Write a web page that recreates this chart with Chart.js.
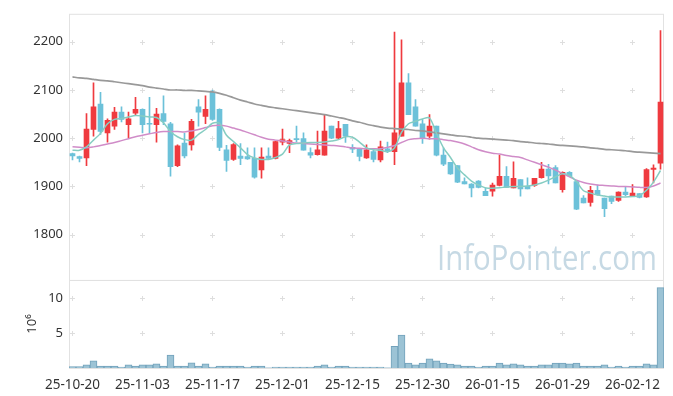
<!DOCTYPE html>
<html>
<head>
<meta charset="utf-8">
<script src="https://cdn.jsdelivr.net/npm/chart.js@4.4.1/dist/chart.umd.min.js"></script>
<style>
  html, body { margin: 0; padding: 0; background: #fff; }
  #wrap { width: 673px; height: 396px; }
</style>
</head>
<body>
<div id="wrap"><canvas id="chart-candle" width="673" height="396"></canvas></div>
<script>
const dates = [
	"25-10-20", "25-10-21", "25-10-22", "25-10-23", "25-10-24",
	"25-10-27", "25-10-28", "25-10-29", "25-10-30", "25-10-31",
	"25-11-03", "25-11-04", "25-11-05", "25-11-06", "25-11-07",
	"25-11-10", "25-11-11", "25-11-12", "25-11-13", "25-11-14",
	"25-11-17", "25-11-18", "25-11-19", "25-11-20", "25-11-21",
	"25-11-24", "25-11-25", "25-11-26", "25-11-27", "25-11-28",
	"25-12-01", "25-12-02", "25-12-03", "25-12-04", "25-12-05",
	"25-12-08", "25-12-09", "25-12-10", "25-12-11", "25-12-12",
	"25-12-15", "25-12-16", "25-12-17", "25-12-18", "25-12-19",
	"25-12-22", "25-12-23", "25-12-24", "25-12-26", "25-12-29",
	"25-12-30", "26-01-02", "26-01-05", "26-01-06", "26-01-07",
	"26-01-08", "26-01-09", "26-01-12", "26-01-13", "26-01-14",
	"26-01-15", "26-01-16", "26-01-19", "26-01-20", "26-01-21",
	"26-01-22", "26-01-23", "26-01-26", "26-01-27", "26-01-28",
	"26-01-29", "26-01-30", "26-02-02", "26-02-03", "26-02-04",
	"26-02-05", "26-02-06", "26-02-09", "26-02-10", "26-02-11",
	"26-02-12", "26-02-13", "26-02-19", "26-02-20", "26-02-23",
];

const open = [
	1968, 1962, 1959, 2018, 2071, 2011, 2025, 2054, 2028, 2052,
	2060, 2030, 2028, 2051, 2030, 1943, 1990, 1986, 2065, 2045,
	2095, 2060, 1976, 1956, 1963, 1962, 1958, 1934, 1963, 1958,
	1992, 1989, 1999, 1999, 1970, 1966, 1965, 2025, 2000, 2029,
	1981, 1978, 1959, 1972, 1955, 1978, 1972, 2004, 2115, 2065,
	2030, 2004, 2025, 1965, 1950, 1943, 1910, 1905, 1911, 1890,
	1890, 1902, 1921, 1897, 1914, 1900, 1902, 1918, 1936, 1939,
	1893, 1929, 1910, 1876, 1867, 1892, 1876, 1880, 1871, 1888,
	1881, 1885, 1878, 1935, 1948,
];
const high = [
	1969, 1963, 2051, 2115, 2095, 2040, 2064, 2065, 2054, 2085,
	2061, 2085, 2062, 2088, 2033, 1986, 2010, 2039, 2080, 2088,
	2100, 2061, 1985, 1989, 1989, 1980, 1980, 1980, 1980, 1994,
	2019, 1998, 2025, 2011, 1980, 2015, 2049, 2025, 2035, 2029,
	1987, 1979, 1986, 1979, 1994, 1992, 2220, 2204, 2134, 2080,
	2039, 2049, 2025, 1980, 1950, 1943, 1918, 1906, 1912, 1897,
	1907, 1965, 1941, 1951, 1914, 1918, 1917, 1950, 1946, 1943,
	1930, 1931, 1911, 1881, 1900, 1903, 1876, 1880, 1889, 1898,
	1904, 1885, 1937, 1945, 2223,
];
const low = [
	1955, 1951, 1943, 2004, 2008, 1992, 2018, 2034, 2001, 2047,
	2011, 2011, 1992, 2028, 1921, 1941, 1959, 1975, 2025, 2030,
	2037, 1974, 1931, 1954, 1945, 1956, 1917, 1917, 1956, 1957,
	1986, 1970, 1993, 1975, 1959, 1965, 1965, 1999, 1998, 1991,
	1970, 1953, 1958, 1951, 1951, 1970, 1945, 2004, 2049, 2025,
	1989, 1998, 1963, 1943, 1925, 1908, 1905, 1878, 1897, 1881,
	1880, 1901, 1898, 1897, 1880, 1895, 1900, 1917, 1905, 1907,
	1888, 1921, 1852, 1866, 1859, 1882, 1837, 1864, 1869, 1881,
	1880, 1876, 1877, 1907, 1936,
];
const close = [
	1963, 1958, 2019, 2065, 2014, 2037, 2054, 2039, 2040, 2060,
	2028, 2029, 2050, 2035, 1941, 1984, 1963, 2035, 2054, 2060,
	2039, 1981, 1954, 1987, 1958, 1957, 1919, 1961, 1958, 1993,
	1997, 1995, 1997, 1975, 1965, 1976, 2015, 2000, 2020, 2004,
	1977, 1962, 1976, 1956, 1982, 1972, 2011, 2115, 2049, 2025,
	2000, 2025, 1965, 1946, 1926, 1909, 1905, 1897, 1898, 1881,
	1903, 1921, 1898, 1917, 1895, 1895, 1917, 1936, 1922, 1907,
	1929, 1922, 1853, 1866, 1892, 1883, 1854, 1869, 1888, 1883,
	1886, 1877, 1935, 1938, 2075,
];

// moving averages
const ma5 = [
	1975, 1975, 1982, 1996, 2010, 2030, 2039, 2041, 2044, 2047,
	2046, 2044, 2043, 2032, 2014, 2003, 1997, 1996, 2008, 2018,
	2031, 2031, 2006, 1993, 1980, 1966, 1959, 1956, 1956, 1960,
	1967, 1986, 1989, 1990, 1991, 1991, 1992, 1994, 1997, 2003,
	2002, 1992, 1980, 1976, 1975, 1972, 1980, 2012, 2030, 2035,
	2040, 2042, 2010, 1980, 1960, 1938, 1924, 1911, 1903, 1897,
	1896, 1897, 1899, 1900, 1900, 1901, 1903, 1907, 1913, 1920,
	1926, 1923, 1910, 1891, 1886, 1882, 1880, 1878, 1878, 1878,
	1879, 1881, 1892, 1909, 1933,
];
const ma20 = [
	1982, 1981, 1980, 1982, 1985, 1988, 1991, 1995, 1999, 2003,
	2006, 2009, 2012, 2014, 2014, 2014, 2013, 2015, 2018, 2022,
	2026, 2027, 2025, 2021, 2017, 2012, 2007, 2002, 1998, 1996,
	1994, 1992, 1990, 1989, 1988, 1987, 1986, 1985, 1984, 1982,
	1980, 1979, 1978, 1978, 1978, 1981, 1985, 1991, 1997, 1999,
	2000, 1999, 1999, 1997, 1995, 1992, 1988, 1982, 1976, 1972,
	1969, 1967, 1964, 1962, 1960, 1955, 1950, 1945, 1940, 1934,
	1927, 1920, 1913, 1908, 1905, 1903, 1902, 1901, 1900, 1900,
	1899, 1898, 1898, 1901, 1907,
];
const ma60 = [
	2127, 2125, 2124, 2122, 2120, 2119, 2117, 2115, 2113, 2111,
	2109, 2106, 2104, 2102, 2100, 2100, 2099, 2099, 2098, 2097,
	2096, 2093, 2089, 2084, 2079, 2075, 2071, 2068, 2065, 2063,
	2061, 2059, 2057, 2055, 2053, 2051, 2049, 2046, 2043, 2040,
	2036, 2033, 2029, 2026, 2023, 2021, 2020, 2019, 2018, 2016,
	2015, 2013, 2011, 2009, 2007, 2005, 2004, 2002, 2000, 1999,
	1998, 1997, 1996, 1995, 1993, 1992, 1990, 1989, 1988, 1986,
	1985, 1984, 1983, 1982, 1980, 1979, 1977, 1976, 1975, 1974,
	1972, 1971, 1970, 1969, 1968,
];

// volume in millions of shares
const volume = [
	0.19, 0.19, 0.47, 1.04, 0.28, 0.28, 0.28, 0.14, 0.47, 0.28,
	0.47, 0.47, 0.61, 0.28, 1.84, 0.28, 0.28, 0.75, 0.28, 0.61,
	0.14, 0.28, 0.28, 0.28, 0.28, 0.14, 0.28, 0.28, 0.02, 0.14,
	0.14, 0.14, 0.14, 0.14, 0.14, 0.28, 0.47, 0.14, 0.28, 0.28,
	0.14, 0.14, 0.14, 0.14, 0.14, 0.02, 3.11, 4.72, 0.71, 0.47,
	0.71, 1.32, 1.04, 0.71, 0.57, 0.47, 0.28, 0.28, 0.14, 0.28,
	0.28, 0.71, 0.47, 0.61, 0.47, 0.28, 0.28, 0.47, 0.47, 0.71,
	0.71, 0.61, 0.71, 0.28, 0.28, 0.28, 0.47, 0.14, 0.28, 0.14,
	0.28, 0.28, 0.61, 0.47, 11.5,
];

const priceTicks = [1800, 1900, 2000, 2100, 2200];
const volumeTicks = [5, 10];

const UP = "#ef3a3f";
const DOWN = "#6cc1d9";
const candleColors = close.map((c, i) => (c >= open[i] ? UP : DOWN));

Chart.defaults.font.family = "'Noto Sans', sans-serif";
Chart.defaults.font.size = 13;
Chart.defaults.color = "#333";

// light panel frames, "+" grid marks and the watermark
const panelDecor = {
	id: "panelDecor",
	beforeDatasetsDraw(chart) {
		const { ctx, chartArea, scales } = chart;
		const { left, right } = chartArea;
		ctx.save();
		ctx.lineWidth = 1;
		ctx.strokeStyle = "#e2e2e2";
		for (const axis of [scales.y, scales.v]) {
			ctx.strokeRect(left + 0.5, axis.top + 0.5, right - left - 1, axis.bottom - axis.top);
		}

		ctx.strokeStyle = "#dedede";
		const xs = scales.x.ticks.map((t) => Math.floor(scales.x.getPixelForValue(t.value)) + 0.5);
		ctx.beginPath();
		for (const axis of [scales.y, scales.v]) {
			for (const t of axis.ticks) {
				const py = Math.round(axis.getPixelForValue(t.value)) + 0.5;
				for (const px of xs) {
					ctx.moveTo(px - 2.5, py);
					ctx.lineTo(px + 2.5, py);
					ctx.moveTo(px, py - 2.5);
					ctx.lineTo(px, py + 2.5);
				}
			}
		}
		ctx.stroke();

		// watermark, squeezed to the narrower face of the original
		const mark = "InfoPointer.com";
		ctx.fillStyle = "#c6d9e4";
		ctx.font = "34px 'Open Sans', sans-serif";
		ctx.textAlign = "right";
		ctx.textBaseline = "alphabetic";
		const sx = 220 / ctx.measureText(mark).width;
		ctx.translate(right - 7, scales.y.bottom - 10);
		ctx.scale(sx, 1);
		ctx.fillText(mark, 0, 0);
		ctx.restore();
	},
};

const ctx = document.getElementById("chart-candle");

const data = {
	labels: dates,
	datasets: [
		{
			type: "line",
			label: "MA5",
			data: ma5,
			borderColor: "#86cdc2",
			borderWidth: 1.5,
			pointRadius: 0,
			tension: 0.3,
			yAxisID: "y",
			order: 0,
		},
		{
			type: "line",
			label: "MA20",
			data: ma20,
			borderColor: "#d08cc8",
			borderWidth: 1.5,
			pointRadius: 0,
			tension: 0.3,
			yAxisID: "y",
			order: 0,
		},
		{
			type: "line",
			label: "MA60",
			data: ma60,
			borderColor: "#999999",
			borderWidth: 1.7,
			pointRadius: 0,
			tension: 0.3,
			yAxisID: "y",
			order: 0,
		},
		{
			label: "body",
			data: open.map((o, i) => [o, close[i]]),
			backgroundColor: candleColors,
			barThickness: 5,
			minBarLength: 1,
			grouped: false,
			yAxisID: "y",
			order: 1,
		},
		{
			label: "wick",
			data: low.map((l, i) => [l, high[i]]),
			backgroundColor: candleColors,
			barThickness: 1,
			grouped: false,
			yAxisID: "y",
			order: 2,
		},
		{
			label: "volume",
			data: volume,
			backgroundColor: "#9cc3d5",
			borderColor: "#72a2bb",
			borderWidth: 1,
			barPercentage: 1,
			categoryPercentage: 1,
			grouped: false,
			yAxisID: "v",
			order: 3,
		},
	],
};

const options = {
	responsive: false,
	animation: false,
	devicePixelRatio: 1,
	layout: { padding: { top: 10, right: 9, left: 0, bottom: 0 } },
	plugins: {
		legend: { display: false },
		tooltip: { enabled: false },
	},
	scales: {
		x: {
			type: "category",
			offset: true,
			grid: { display: false },
			border: { display: false },
			afterBuildTicks: (axis) => {
				axis.ticks = axis.ticks.filter((t) => t.value % 10 === 0);
			},
			afterFit: (axis) => {
				axis.height = 28;
			},
			ticks: {
				autoSkip: false,
				maxRotation: 0,
				padding: 1,
				color: "#333",
				font: { size: 13.5 },
			},
		},
		v: {
			position: "left",
			stack: "panels",
			stackWeight: 89,
			min: 0,
			max: 12.6,
			grid: { display: false, drawTicks: false },
			border: { display: false },
			afterBuildTicks: (axis) => {
				axis.ticks = volumeTicks.map((value) => ({ value }));
			},
			afterFit: (axis) => {
				axis.width = 69;
			},
			ticks: { padding: 6, callback: (value) => String(value) },
			title: {
				display: true,
				text: "10\u2076",
				padding: { top: 24, bottom: 0 },
				font: { size: 13 },
				color: "#333",
			},
		},
		y: {
			position: "left",
			stack: "panels",
			stackWeight: 269,
			min: 1706,
			max: 2258,
			grid: { display: false, drawTicks: false },
			border: { display: false },
			afterBuildTicks: (axis) => {
				axis.ticks = priceTicks.map((value) => ({ value }));
			},
			afterFit: (axis) => {
				axis.width = 69;
			},
			ticks: { padding: 6, callback: (value) => String(value) },
		},
	},
};

new Chart(ctx, {
	type: "bar",
	plugins: [panelDecor],
	options: options,
	data: data,
});
</script>
</body>
</html>
